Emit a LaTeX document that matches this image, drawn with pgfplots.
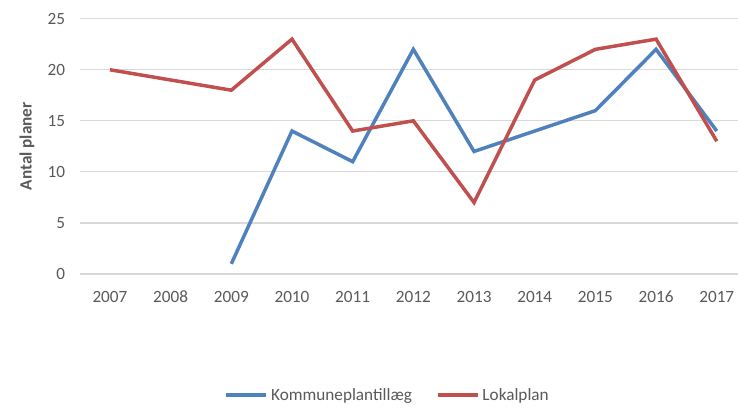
\documentclass[border=0pt]{standalone}
\usepackage{pgfplots}
\pgfplotsset{compat=1.18}
\usepackage{fontspec}
\setmainfont{Carlito}
\definecolor{cblue}{HTML}{4F81BD}
\definecolor{cred}{HTML}{C0504D}
\definecolor{cgrid}{HTML}{D9D9D9}
\definecolor{ctext}{HTML}{595959}
\begin{document}
\begin{tikzpicture}[x=1pt,y=1pt]
\useasboundingbox (0,0) rectangle (738,408);
\begin{axis}[
  at={(79.6pt,134pt)}, anchor=south west,
  scale only axis, width=658.4pt, height=255.3pt,
  xmin=-0.5, xmax=10.35, ymin=0, ymax=25,
  xtick={0,...,10},
  xticklabels={2007,2008,2009,2010,2011,2012,2013,2014,2015,2016,2017},
  ytick={0,5,...,25},
  /pgf/number format/assume math mode=true,
  axis line style={draw=none},
  axis x line*=bottom, axis y line*=left,
  major tick length=0pt,
  ymajorgrids, grid style={cgrid, line width=1.2pt},
  clip=false,
  tick label style={font=\fontsize{17.2}{19}\selectfont, text=ctext},
  xticklabel style={yshift=-13pt, text height=12pt, text depth=0pt},
  yticklabel style={xshift=-11pt},
  ylabel={\textbf{Antal planer}},
  ylabel style={font=\fontsize{17.2}{19}\selectfont, text=ctext, at={(axis description cs:-0.080,0.5)}, anchor=center},
  legend columns=2,
  legend style={at={(axis description cs:0.468,-0.474)}, anchor=center, draw=none,
    font=\fontsize{17.2}{19}\selectfont, text=ctext,
    /tikz/every odd column/.append style={column sep=1pt},
    /tikz/every even column/.append style={column sep=22pt}},
  legend image code/.code={\draw[#1, line width=3.5pt] (0pt,0pt) -- (40pt,0pt);},
]
\addplot[cblue, line width=3.5pt] coordinates {
 (2,1) (3,14) (4,11) (5,22) (6,12) (7,14) (8,16) (9,22) (10,14)};
\addlegendentry{Kommuneplantillæg}
\addplot[cred, line width=3.5pt] coordinates {
 (0,20) (1,19) (2,18) (3,23) (4,14) (5,15) (6,7) (7,19) (8,22) (9,23) (10,13)};
\addlegendentry{Lokalplan}
\end{axis}
\end{tikzpicture}
\end{document}
